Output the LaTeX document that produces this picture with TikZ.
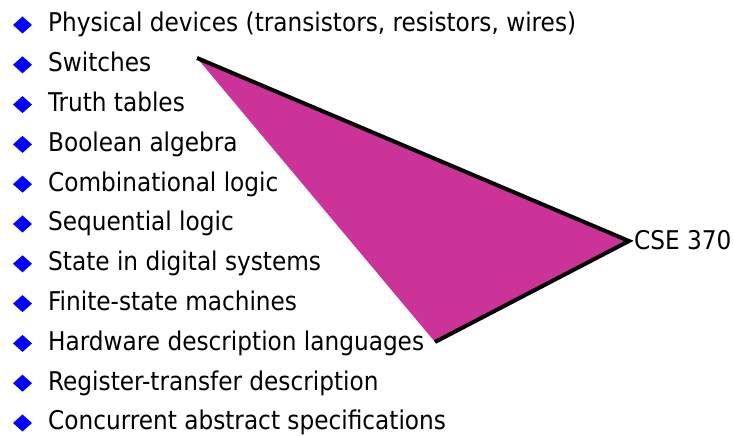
\documentclass[tikz,border=0pt]{standalone}
\usepackage{fontspec}
\setmainfont{DejaVu Sans Condensed}
\definecolor{tri}{HTML}{CC3399}
\begin{document}
\begin{tikzpicture}[x=1pt,y=1pt,
  bullet/.style={fill=blue},
  item/.style={anchor=base west,inner sep=0pt,font=\fontsize{25.8}{30}\selectfont},
  edge/.style={line width=4pt,line join=miter}]
\useasboundingbox (0,0) rectangle (734,436);
\foreach \i/\t in {0/{Physical devices (transistors, resistors, wires)},
                   1/Switches,2/Truth tables,3/Boolean algebra,4/Combinational logic,
                   5/Sequential logic,6/State in digital systems,7/Finite-state machines,
                   8/Hardware description languages,9/Register-transfer description,
                   10/Concurrent abstract specifications}{
  \coordinate (b\i) at (22.5,{436-25-39.8*\i});
  \fill[bullet] (b\i) ++(-9.5,0) -- ++(9.5,8.5) -- ++(9.5,-8.5) -- ++(-9.5,-8.5) -- cycle;
  \node[item] (t\i) at (48,{436-32-39.8*\i}) {\t};
}
\node[item] (cse) at (634,{436-250}) {CSE 370};
\coordinate (A) at (197,{436-58});
\coordinate (B) at (629,{436-241});
\coordinate (C) at (435,{436-342});
\fill[tri] (A) -- (B) -- (C) -- cycle;
\draw[edge] (A) -- (B) -- (C);
\end{tikzpicture}
\end{document}
